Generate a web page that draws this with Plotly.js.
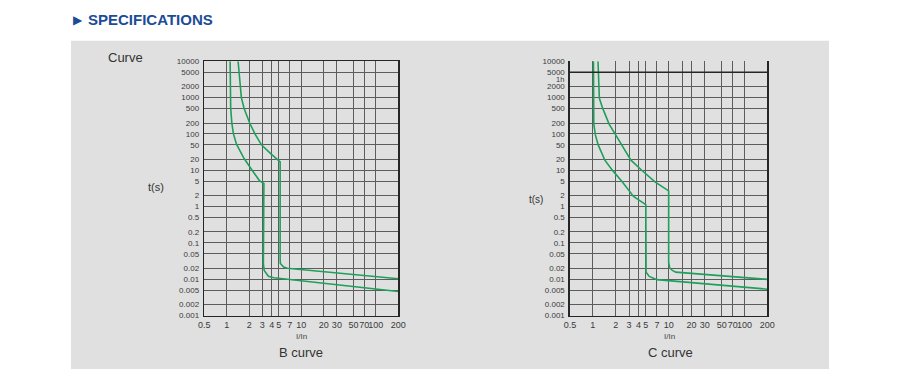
<!DOCTYPE html>
<html><head><meta charset="utf-8">
<script src="https://cdn.plot.ly/plotly-3.0.1.min.js"></script>
<style>html,body{margin:0;padding:0;background:#fff;}#chart{width:898px;height:379px;}</style>
</head><body><div id="chart"></div>
<script>
// ---- axis ticks ----
const xTickVals = [0.5, 1, 2, 3, 4, 5, 7, 10, 20, 30, 50, 70, 100, 200];
const xTickText = ['0.5', '1', '2', '3', '4', '5', '7', '10', '20', '30', '50', '70', '100', '200'];
const xTickValsC = [0.5, 1, 2, 3, 4, 5, 7, 10, 15, 20, 30, 50, 70, 100, 200];
const xTickTextC = ['0.5', '1', '2', '3', '4', '5', '7', '10', '', '20', '30', '50', '70', '100', '200'];
const yTickVals = [10000, 5000, 2000, 1000, 500, 200, 100, 50, 20, 10, 5, 2, 1, 0.5, 0.2, 0.1, 0.05, 0.02, 0.01, 0.005, 0.002, 0.001];
const yTickText = ['10000', '5000', '2000', '1000', '500', '200', '100', '50', '20', '10', '5', '2', '1', '0.5', '0.2', '0.1', '0.05', '0.02', '0.01', '0.005', '0.002', '0.001'];

// ---- B curve (I/In, t in s) ----
const bLowerI = [1.11, 1.13, 1.17, 1.23, 1.35, 1.71, 2.19, 2.74, 3.15, 3.1, 3.18, 3.62, 4.28, 200];
const bLowerT = [10000, 514, 198, 100, 52, 21, 10, 5.2, 4.3, 0.027, 0.0174, 0.0121, 0.011, 0.0046];
const bUpperI = [1.42, 1.50, 1.57, 1.71, 2.03, 2.39, 2.92, 3.85, 5.2, 5.2, 5.24, 5.8, 6.5, 200];
const bUpperT = [10000, 2000, 1000, 500, 200, 100, 50, 29, 17, 0.037, 0.027, 0.0215, 0.020, 0.0103];

// ---- C curve ----
const cLowerI = [1.02, 1.02, 1.03, 1.08, 1.18, 1.44, 1.84, 2.44, 3.44, 5, 5, 5.04, 5.55, 7.0, 200];
const cLowerT = [10000, 505, 186, 94, 49, 19, 9.6, 4.8, 1.9, 1.13, 0.0215, 0.0156, 0.0119, 0.0097, 0.0053];
const cUpperI = [1.17, 1.22, 1.35, 1.64, 2.0, 2.44, 3.18, 4.42, 6.6, 10, 10, 10.3, 11.2, 12.4, 200];
const cUpperT = [10000, 954, 505, 186, 94, 49, 19, 10, 4.8, 2.7, 0.0295, 0.0207, 0.0174, 0.0156, 0.0099];
const cBoxTop = 5000;

const W = 898, H = 379;
const px = v => v / W;
const py = v => 1 - v / H;
const FONT = 'Liberation Sans, Arial, sans-serif';
const GREEN = '#1fa05a';
const GRID = '#5c5c5c';
const BORDER = '#262626';

function line(x, y, xa, ya) {
  return {x: x, y: y, xaxis: xa, yaxis: ya, type: 'scatter', mode: 'lines',
    line: {color: GREEN, width: 1.6}, hoverinfo: 'skip', showlegend: false};
}
const data = [
  line(bLowerI, bLowerT, 'x', 'y'),
  line(bUpperI, bUpperT, 'x', 'y'),
  line(cLowerI, cLowerT, 'x2', 'y2'),
  line(cUpperI, cUpperT, 'x2', 'y2')
];

function xAxis(domain, vals, text, mirror, anchor) {
  return {type: 'log', domain: domain, anchor: anchor,
    range: [Math.log10(0.5), Math.log10(200)],
    tickmode: 'array', tickvals: vals, ticktext: text, ticks: '', tickangle: 0,
    showgrid: true, gridcolor: GRID, gridwidth: 1, zeroline: false,
    showline: true, linecolor: BORDER, linewidth: 1.6, mirror: mirror,
    tickfont: {family: FONT, size: 9, color: '#3a3a3a'}, fixedrange: true};
}
function yAxis(domain, anchor) {
  return {type: 'log', domain: domain, anchor: anchor,
    range: [Math.log10(0.001), Math.log10(10000)],
    tickmode: 'array', tickvals: yTickVals, ticktext: yTickText, ticks: '',
    showgrid: true, gridcolor: GRID, gridwidth: 1, zeroline: false,
    showline: true, linecolor: BORDER, linewidth: 1.6, mirror: true,
    ticklabelstandoff: 2,
    tickfont: {family: FONT, size: 8, color: '#3a3a3a'}, fixedrange: true};
}

const yDom = [py(315.5), py(61.3)];
const layout = {
  width: W, height: H,
  margin: {l: 0, r: 0, t: 0, b: 0, pad: 0},
  paper_bgcolor: '#ffffff', plot_bgcolor: 'rgba(0,0,0,0)',
  showlegend: false,
  xaxis: xAxis([px(204.3), px(398.3)], xTickVals, xTickText, true, 'y'),
  yaxis: yAxis(yDom, 'x'),
  xaxis2: xAxis([px(570), px(767.3)], xTickValsC, xTickTextC, false, 'y2'),
  yaxis2: yAxis(yDom, 'x2'),
  shapes: [
    {type: 'rect', xref: 'paper', yref: 'paper', x0: px(71), x1: px(829), y0: py(369), y1: py(40.7),
      fillcolor: '#e0e0e0', line: {width: 0}, layer: 'below'},
    {type: 'line', xref: 'x2 domain', yref: 'y2', x0: 0, x1: 1, y0: cBoxTop, y1: cBoxTop,
      line: {color: BORDER, width: 1.6}}
  ],
  annotations: [
    {xref: 'paper', yref: 'paper', x: px(71), y: py(19.5), xanchor: 'left', yanchor: 'middle', showarrow: false,
      text: '▶', font: {family: 'DejaVu Sans', size: 12, color: '#1b4c96'}},
    {xref: 'paper', yref: 'paper', x: px(86), y: py(19.5), xanchor: 'left', yanchor: 'middle', showarrow: false,
      text: '<b>SPECIFICATIONS</b>', font: {family: FONT, size: 15, color: '#1b4c96'}},
    {xref: 'paper', yref: 'paper', x: px(125.8), y: py(57.3), xanchor: 'center', yanchor: 'middle', showarrow: false,
      text: 'Curve', font: {family: FONT, size: 13, color: '#333'}},
    {xref: 'paper', yref: 'paper', x: px(155.5), y: py(187.5), xanchor: 'center', yanchor: 'middle', showarrow: false,
      text: 't(s)', font: {family: FONT, size: 11, color: '#333'}},
    {xref: 'paper', yref: 'paper', x: px(536), y: py(199), xanchor: 'center', yanchor: 'middle', showarrow: false,
      text: 't(s)', font: {family: FONT, size: 10, color: '#333'}},
    {xref: 'paper', yref: 'paper', x: px(301.3), y: py(336), xanchor: 'center', yanchor: 'middle', showarrow: false,
      text: 'I/In', font: {family: FONT, size: 8, color: '#444'}},
    {xref: 'paper', yref: 'paper', x: px(669.3), y: py(336), xanchor: 'center', yanchor: 'middle', showarrow: false,
      text: 'I/In', font: {family: FONT, size: 8, color: '#444'}},
    {xref: 'paper', yref: 'paper', x: px(301.3), y: py(352.3), xanchor: 'center', yanchor: 'middle', showarrow: false,
      text: 'B curve', font: {family: FONT, size: 13, color: '#333'}},
    {xref: 'paper', yref: 'paper', x: px(670), y: py(352.3), xanchor: 'center', yanchor: 'middle', showarrow: false,
      text: 'C curve', font: {family: FONT, size: 13, color: '#333'}},
    {xref: 'paper', yref: 'paper', x: px(566), y: py(79.4), xanchor: 'right', yanchor: 'middle', showarrow: false,
      text: '1h', font: {family: FONT, size: 7.5, color: '#3a3a3a'}}
  ]
};
Plotly.newPlot('chart', data, layout, {displayModeBar: false, staticPlot: true});
</script></body></html>
